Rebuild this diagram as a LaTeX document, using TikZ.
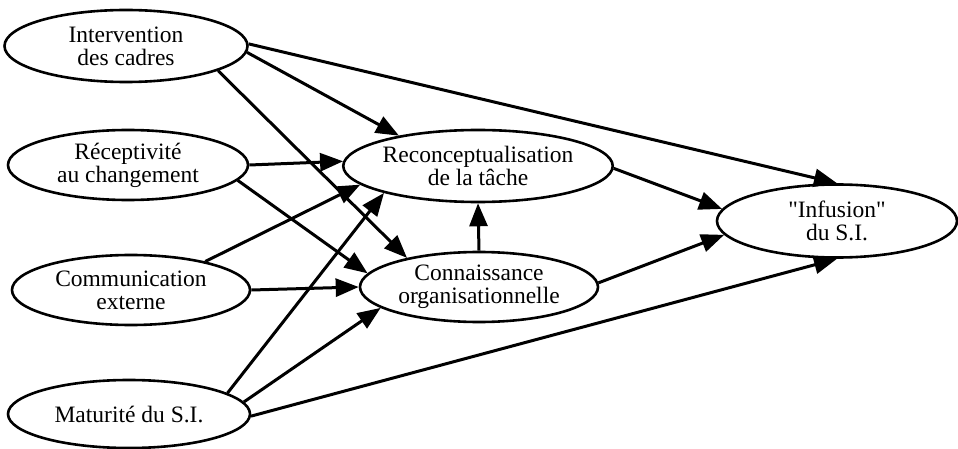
\documentclass[tikz,border=0pt]{standalone}
\usepackage{fontspec}
\setmainfont{Liberation Serif}[Ligatures=TeXOff]
\usetikzlibrary{shapes.geometric,arrows.meta}
\begin{document}
\begin{tikzpicture}[x=1pt,y=-1pt,
  ell/.style={ellipse,draw,line width=2.6pt,inner sep=0pt,align=center,
    font=\fontsize{23.5}{23}\selectfont},
  arr/.style={line width=3pt,-{Triangle[length=23pt,width=18pt]}}]
\useasboundingbox (0,0) rectangle (958,449);
\node[ell,minimum width=243pt,minimum height=72pt] (int) at (126,46) {Intervention\\des cadres};
\node[ell,minimum width=240pt,minimum height=70pt] (rec) at (128,165) {Réceptivité\\au changement};
\node[ell,minimum width=238pt,minimum height=70pt] (com) at (131,290) {Communication\\externe};
\node[ell,minimum width=242pt,minimum height=68pt] (mat) at (129,414) {Maturité du S.I.};
\node[ell,minimum width=237pt,minimum height=72pt] (reco) at (478,166) {Reconceptualisation\\de la tâche};
\node[ell,minimum width=238pt,minimum height=70pt] (conn) at (479,287) {Connaissance\\organisationnelle};
\node[ell,minimum width=240pt,minimum height=73pt] (inf) at (837,221) {"Infusion"\\du S.I.};
% edges
\draw[arr] (int.1) -- (inf.90);
\draw[arr] (int.-3) -- (reco.159);
\draw[arr] (int.-15) -- (conn.158);
\draw[arr] (rec.0) -- (reco.178);
\draw[arr] (rec.-8) -- (conn.173);
\draw[arr] (com.21) -- (reco.189);
\draw[arr] (com.0) -- (conn.180);
\draw[arr] (mat.12) -- (reco.196);
\draw[arr] (mat.6) -- (conn.192);
\draw[arr] (mat.-1) -- (inf.-90);
\draw[arr] (conn.90) -- (reco.-90);
\draw[arr] (reco.-1) -- (inf.174);
\draw[arr] (conn.2) -- (inf.187);
\end{tikzpicture}
\end{document}
